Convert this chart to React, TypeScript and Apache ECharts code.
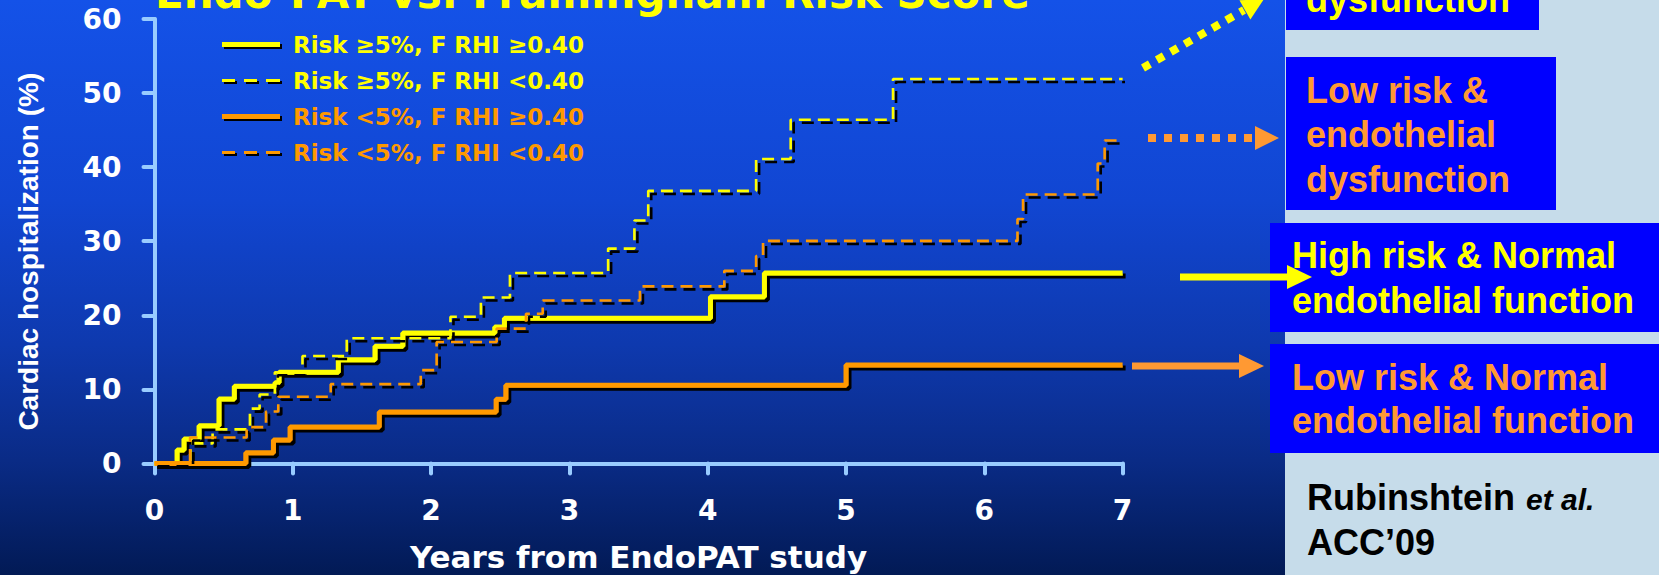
import React, { useEffect, useRef } from "react";
import * as echarts from "echarts";

// ---------- data ----------
const seriesNames = [
  "Risk ≥5%, F RHI ≥0.40",
  "Risk ≥5%, F RHI <0.40",
  "Risk <5%, F RHI ≥0.40",
  "Risk <5%, F RHI <0.40",
];

// [years, cardiac hospitalization %]
const yellowSolid: [number, number][] = [
  [0, 0], [0.163, 1.8], [0.213, 3.3], [0.322, 5.1], [0.466, 8.7], [0.577, 10.4],
  [0.871, 10.9], [0.9, 12.3], [1.329, 14.0], [1.594, 15.8], [1.795, 17.6],
  [2.46, 18.4], [2.53, 19.6], [4.02, 22.5], [4.41, 25.7], [7.0, 25.7],
];
const yellowDashed: [number, number][] = [
  [0, 0], [0.26, 2.7], [0.42, 4.6], [0.69, 7.4], [0.76, 9.3], [0.87, 12.3],
  [1.07, 14.5], [1.39, 16.9], [2.14, 19.8], [2.36, 22.4], [2.57, 25.7],
  [3.28, 29.0], [3.47, 32.8], [3.57, 36.8], [4.35, 41.1], [4.6, 46.4],
  [5.34, 51.9], [7.0, 51.9],
];
const orangeSolid: [number, number][] = [
  [0, 0], [0.66, 1.45], [0.86, 3.15], [0.98, 4.9], [1.625, 6.95], [2.47, 8.65],
  [2.54, 10.55], [5.0, 13.3], [7.0, 13.3],
];
const orangeDashed: [number, number][] = [
  [0, 0], [0.257, 3.5], [0.666, 4.9], [0.806, 7.0], [0.895, 9.0], [1.274, 10.7],
  [1.925, 12.6], [2.04, 16.4], [2.474, 18.2], [2.686, 20.2], [2.807, 22.0],
  [3.51, 23.9], [4.12, 26.0], [4.35, 28.0], [4.4, 30.05], [6.24, 33.0],
  [6.28, 36.3], [6.82, 40.5], [6.87, 43.6], [7.0, 43.6],
];

const xTicks = ["0", "1", "2", "3", "4", "5", "6", "7"];
const yTicks = ["0", "10", "20", "30", "40", "50", "60"];

const titleText = "Endo-PAT vs. Framingham Risk Score";
const xAxisName = "Years from EndoPAT study";
const yAxisName = "Cardiac hospitalization (%)";

const box1Lines = ["dysfunction"];
const box2Lines = ["Low risk &", "endothelial", "dysfunction"];
const box3Lines = ["High risk & Normal", "endothelial function"];
const box4Lines = ["Low risk & Normal", "endothelial function"];
const citeAuthor = "Rubinshtein";
const citeEtAl = "et al.";
const citeConf = "ACC\u201909";

// ---------- styles ----------
const YELLOW = "#FFFF00";
const ORANGE = "#FF9900";
const ORANGE_LIGHT = "#FF9933";
const AXIS = "#99CCFF";
const BOX = "#0000FF";
const PANEL = "#C6DCEA";
const WIDE = "DejaVu Sans";
const ARIAL = "Liberation Sans";

const SOLID_ICON = "path://M0,0h58v5h-58z";
const DASH_ICON = "path://M0,0h13v3h-13z M22,0h13v3h-13z M44,0h14v3h-14z";

const shadowText = {
  textShadowColor: "#000",
  textShadowOffsetX: 2,
  textShadowOffsetY: 2,
  textShadowBlur: 0,
};

function mid(baseline: number, fs: number) {
  return baseline - 0.346 * fs;
}

function panelText(lines: string[], x: number, baselines: number[], color: string, fs = 36) {
  return lines.map((t, i) => ({
    type: "text",
    x,
    y: mid(baselines[i], fs),
    silent: true,
    style: {
      text: t,
      fill: color,
      font: `bold ${fs}px "${ARIAL}", Arial, sans-serif`,
      align: "left",
      verticalAlign: "middle",
    },
  }));
}

function arrowHead(tip: [number, number], dir: [number, number], len: number, half: number, color: string) {
  const n = Math.hypot(dir[0], dir[1]);
  const u = [dir[0] / n, dir[1] / n];
  const p = [-u[1], u[0]];
  const bx = tip[0] - u[0] * len;
  const by = tip[1] - u[1] * len;
  return {
    type: "polygon",
    silent: true,
    shape: {
      points: [
        [tip[0], tip[1]],
        [bx + p[0] * half, by + p[1] * half],
        [bx - p[0] * half, by - p[1] * half],
      ],
    },
    style: { fill: color },
  };
}

export default function App() {
  const ref = useRef<HTMLDivElement>(null);

  useEffect(() => {
    if (!ref.current) return;
    const chart = echarts.init(ref.current, null, { renderer: "svg" });

    const lineShadow = { shadowColor: "#000", shadowOffsetX: 3, shadowOffsetY: 3, shadowBlur: 0 };
    const mk = (name: string, data: [number, number][], color: string, dashed: boolean) => ({
      name,
      type: "line",
      step: "end",
      symbol: "none",
      clip: false,
      data,
      lineStyle: {
        color,
        width: dashed ? 2.6 : 5,
        type: dashed ? [12, 7] : "solid",
        ...lineShadow,
      },
      itemStyle: { color },
      emphasis: { disabled: true },
    });

    const legendColors = [YELLOW, YELLOW, ORANGE, ORANGE];
    const legendDashed = [false, true, false, true];

    chart.setOption({
      animation: false,
      backgroundColor: PANEL,
      textStyle: { fontFamily: WIDE },
      grid: {
        left: 154.5,
        right: 536.4,
        top: 19,
        bottom: 111.6,
        containLabel: false,
        outerBoundsMode: "none",
      },
      xAxis: {
        type: "value",
        min: 0,
        max: 7,
        interval: 1,
        name: xAxisName,
        nameLocation: "middle",
        nameGap: 78,
        nameTextStyle: {
          color: "#fff",
          fontFamily: WIDE,
          fontWeight: "bold",
          fontSize: 31,
          ...shadowText,
        },
        axisLine: { lineStyle: { color: AXIS, width: 4, cap: "round" } },
        axisTick: { length: 10, lineStyle: { color: AXIS, width: 4, cap: "round" } },
        splitLine: { show: false },
        axisLabel: {
          color: "#fff",
          fontFamily: WIDE,
          fontWeight: "bold",
          fontSize: 28,
          margin: 33,
          formatter: (v: number) => xTicks[Math.round(v)] ?? "",
          ...shadowText,
        },
      },
      yAxis: {
        type: "value",
        min: 0,
        max: 60,
        interval: 10,
        name: yAxisName,
        nameLocation: "middle",
        nameRotate: 90,
        nameGap: 112,
        nameTextStyle: {
          color: "#fff",
          fontFamily: ARIAL,
          fontWeight: "bold",
          fontSize: 28,
          padding: [0, 21, 0, 0],
          ...shadowText,
        },
        axisLine: { lineStyle: { color: AXIS, width: 4, cap: "round" } },
        axisTick: { length: 11, lineStyle: { color: AXIS, width: 4, cap: "round" } },
        splitLine: { show: false },
        axisLabel: {
          color: "#fff",
          fontFamily: WIDE,
          fontWeight: "bold",
          fontSize: 28,
          margin: 33,
          formatter: (v: number) => yTicks[Math.round(v / 10)] ?? "",
          ...shadowText,
        },
      },
      legend: {
        orient: "vertical",
        left: 217,
        top: 28,
        itemWidth: 58,
        itemHeight: 14,
        itemGap: 13,
        selectedMode: false,
        data: seriesNames.map((n, i) => ({
          name: n,
          icon: legendDashed[i] ? DASH_ICON : SOLID_ICON,
          textStyle: { color: legendColors[i] },
          itemStyle: {
            color: legendColors[i],
            borderWidth: 0,
            shadowColor: "#000",
            shadowOffsetX: 2,
            shadowOffsetY: 2,
            shadowBlur: 0,
          },
        })),
        textStyle: {
          fontFamily: WIDE,
          fontWeight: "bold",
          fontSize: 23,
          padding: [0, 0, 0, 8],
          ...shadowText,
        },
      },
      series: [
        mk(seriesNames[0], yellowSolid, YELLOW, false),
        mk(seriesNames[1], yellowDashed, YELLOW, true),
        mk(seriesNames[2], orangeSolid, ORANGE, false),
        mk(seriesNames[3], orangeDashed, ORANGE, true),
      ],
      graphic: [
        // left gradient background
        {
          type: "rect",
          z: -10,
          silent: true,
          shape: { x: 0, y: 0, width: 1285, height: 575 },
          style: {
            fill: new echarts.graphic.LinearGradient(0, 0, 0, 1, [
              { offset: 0, color: "#1452E8" },
              { offset: 0.35, color: "#1146D2" },
              { offset: 0.6, color: "#0E39AE" },
              { offset: 0.8, color: "#0A2B86" },
              { offset: 1, color: "#021A55" },
            ]),
          },
        },
        // title (cut at top)
        {
          type: "text",
          x: 155,
          y: mid(8, 42),
          silent: true,
          style: {
            text: titleText,
            fill: YELLOW,
            font: `bold 42px "${WIDE}", sans-serif`,
            align: "left",
            verticalAlign: "middle",
          },
        },
        // right panel boxes
        { type: "rect", silent: true, shape: { x: 1286, y: 0, width: 253, height: 30 }, style: { fill: BOX } },
        { type: "rect", silent: true, shape: { x: 1286, y: 57, width: 270, height: 153 }, style: { fill: BOX } },
        { type: "rect", silent: true, shape: { x: 1270, y: 223, width: 389, height: 109 }, style: { fill: BOX } },
        { type: "rect", silent: true, shape: { x: 1270, y: 344, width: 389, height: 109 }, style: { fill: BOX } },
        ...panelText(box1Lines, 1306, [12], YELLOW),
        ...panelText(box2Lines, 1306, [103, 147, 192], ORANGE_LIGHT),
        ...panelText(box3Lines, 1292, [268, 313], YELLOW),
        ...panelText(box4Lines, 1292, [390, 433], ORANGE_LIGHT),
        ...panelText([citeAuthor], 1307, [510], "#000"),
        {
          type: "text",
          x: 1526,
          y: mid(510, 30),
          silent: true,
          style: {
            text: citeEtAl,
            fill: "#000",
            font: `italic bold 30px "${ARIAL}", Arial, sans-serif`,
            align: "left",
            verticalAlign: "middle",
          },
        },
        ...panelText([citeConf], 1307, [555], "#000"),
        // yellow dotted diagonal arrow
        {
          type: "line",
          silent: true,
          shape: { x1: 1143, y1: 68, x2: 1244, y2: 10 },
          style: { stroke: YELLOW, lineWidth: 8, lineDash: [8, 8] },
        },
        arrowHead([1264, -1], [119, -68], 22, 11, YELLOW),
        // orange dotted arrow
        {
          type: "line",
          silent: true,
          shape: { x1: 1148, y1: 138, x2: 1255, y2: 138 },
          style: { stroke: ORANGE_LIGHT, lineWidth: 8, lineDash: [8, 8] },
        },
        arrowHead([1279, 138], [1, 0], 24, 12, ORANGE_LIGHT),
        // yellow solid arrow
        {
          type: "line",
          silent: true,
          shape: { x1: 1180, y1: 277, x2: 1290, y2: 277 },
          style: { stroke: YELLOW, lineWidth: 7 },
        },
        arrowHead([1312, 277], [1, 0], 25, 12, YELLOW),
        // orange solid arrow
        {
          type: "line",
          silent: true,
          shape: { x1: 1132, y1: 366, x2: 1242, y2: 366 },
          style: { stroke: ORANGE_LIGHT, lineWidth: 7 },
        },
        arrowHead([1264, 366], [1, 0], 25, 12, ORANGE_LIGHT),
      ],
    });

    return () => chart.dispose();
  }, []);

  return (
    <div
      ref={ref}
      style={{ position: "absolute", left: 0, top: 0, width: 1659, height: 575 }}
    />
  );
}
